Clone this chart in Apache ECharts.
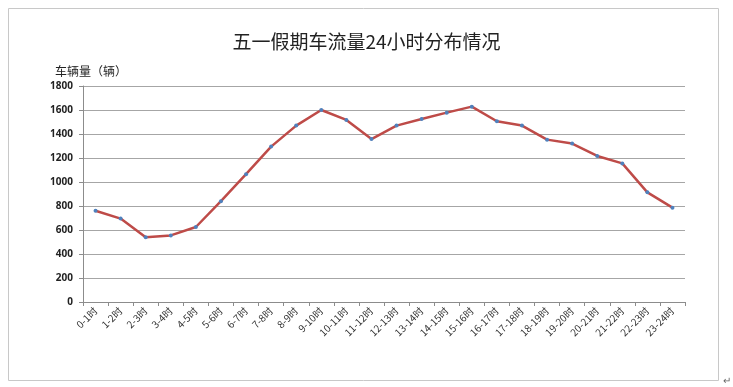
<!DOCTYPE html>
<html>
<head>
<meta charset="utf-8">
<script src="https://cdn.jsdelivr.net/npm/echarts@6/dist/echarts.min.js"></script>
<style>html,body{margin:0;padding:0;background:#fff}#c{width:733px;height:387px}</style>
</head>
<body>
<div id="c"></div>
<script>
var categories = ['0-1时','1-2时','2-3时','3-4时','4-5时','5-6时','6-7时','7-8时','8-9时','9-10时','10-11时','11-12时','12-13时','13-14时','14-15时','15-16时','16-17时','17-18时','18-19时','19-20时','20-21时','21-22时','22-23时','23-24时'];
var traffic = [760,695,540,555,625,840,1065,1295,1470,1600,1517,1358,1470,1525,1578,1628,1506,1470,1353,1320,1217,1155,914,786];
var titleText = '五一假期车流量24小时分布情况';
var yName = '车辆量（辆）';

var chart = echarts.init(document.getElementById('c'), null, {renderer:'canvas'});
chart.setOption({
  animation:false,
  backgroundColor:'#fff',
  title:{text:titleText, left:'center', top:27, textStyle:{fontSize:19, fontWeight:'normal', color:'#222', fontFamily:'Noto Sans CJK SC'}},
  graphic:[
    {type:'rect', shape:{x:8.5,y:8.5,width:710,height:372}, style:{fill:'none', stroke:'#c8c8c8', lineWidth:1}},
    {type:'text', left:55, top:65, style:{text:yName, fontSize:12, fill:'#222', fontFamily:'Noto Sans CJK SC'}},
    {type:'text', left:723, top:376, style:{text:'↵', fontSize:10, fill:'#666'}}
  ],
  grid:{left:83, right:48, top:86, bottom:85, containLabel:false},
  xAxis:{
    type:'category', data:categories, boundaryGap:true,
    axisLine:{lineStyle:{color:'#8c8c8c', width:1}},
    axisTick:{show:true, length:4, alignWithLabel:false, lineStyle:{color:'#8c8c8c'}},
    axisLabel:{rotate:45, fontSize:10, color:'#333', margin:7, interval:0, fontFamily:'Noto Sans CJK SC'},
    splitLine:{show:false}
  },
  yAxis:{
    type:'value', min:0, max:1800, interval:200,
    axisLine:{show:true, lineStyle:{color:'#8c8c8c'}},
    axisTick:{show:true, length:4, lineStyle:{color:'#8c8c8c'}},
    axisLabel:{fontSize:10, fontWeight:'bold', color:'#222', margin:10, fontFamily:'Noto Sans', formatter:function(v){return String(v);}},
    splitLine:{lineStyle:{color:'#a6a6a6', width:1}}
  },
  series:[{
    type:'line', data:traffic,
    lineStyle:{color:'#BE4B48', width:2.5},
    symbol:'circle', symbolSize:4,
    itemStyle:{color:'#4F81BD', borderWidth:0},
    z:3
  }]
});
</script>
</body>
</html>
